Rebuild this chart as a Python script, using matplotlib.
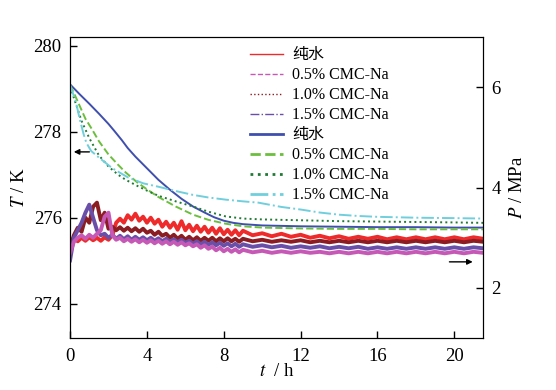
import numpy as np
import matplotlib
matplotlib.use('Agg')
import matplotlib.pyplot as plt
from matplotlib.lines import Line2D

plt.rcParams['font.family'] = ['Liberation Serif', 'Noto Sans CJK SC']
plt.rcParams['mathtext.fontset'] = 'stix'

# temperature curves (left axis)
t_blue = [0, 0.5, 1, 1.5, 2, 2.3, 2.7, 3, 3.4, 4, 4.6, 5.2, 5.8, 6.4, 7, 7.5, 8, 8.5, 9, 10, 12, 14, 16, 18, 20, 21.5]
T_blue = [279.1, 278.87, 278.65, 278.42, 278.18, 278.02, 277.8, 277.62, 277.42, 277.15, 276.88, 276.65, 276.44,
          276.26, 276.12, 276.01, 275.93, 275.88, 275.85, 275.82, 275.8, 275.79, 275.78, 275.78, 275.77, 275.77]
t_green = [0, 0.25, 0.5, 0.8, 1.15, 1.5, 2, 2.5, 2.9, 3.5, 4, 4.6, 5.5, 6.4, 7.2, 8.1, 9, 10, 12, 14, 16, 18, 20, 21.5]
T_green = [279.08, 278.85, 278.6, 278.3, 278.05, 277.78, 277.47, 277.23, 277.05, 276.82, 276.66, 276.48, 276.26,
           276.07, 275.95, 275.86, 275.8, 275.77, 275.75, 275.74, 275.74, 275.73, 275.73, 275.73]
t_dgreen = [0, 0.3, 0.6, 1.0, 1.5, 2, 2.5, 2.9, 3.5, 4, 4.6, 5.5, 6.4, 7.2, 8.1, 9, 10, 12, 14, 16, 18, 20, 21.5]
T_dgreen = [279.05, 278.65, 278.25, 277.85, 277.45, 277.19, 277.0, 276.88, 276.74, 276.63, 276.51, 276.38, 276.26,
            276.14, 276.03, 275.98, 275.96, 275.94, 275.92, 275.91, 275.9, 275.89, 275.88]
t_cyan = [0, 0.3, 0.5, 0.7, 0.85, 1.1, 1.5, 2.2, 3, 3.8, 4.6, 5.5, 6.4, 7.2, 8.1, 9, 9.8, 11, 12, 13, 14, 15, 16, 18, 20, 21.5]
T_cyan = [279.08, 278.7, 278.3, 277.95, 277.74, 277.55, 277.4, 277.15, 276.94, 276.8, 276.72, 276.62, 276.53,
          276.47, 276.42, 276.38, 276.35, 276.25, 276.19, 276.12, 276.07, 276.04, 276.02, 276.0, 275.99, 275.98]

# pressure curves (right axis)
t_p = np.concatenate([np.arange(0, 9.01, 0.2), np.arange(9.5, 21.51, 0.5)])
P_red = [2.90, 2.99, 2.93, 3.00, 2.94, 3.01, 2.95, 3.00, 2.94, 3.01, 2.96, 3.05, 3.30, 3.38, 3.30, 3.45, 3.36, 3.48,
         3.34, 3.42, 3.30, 3.40, 3.28, 3.36, 3.22, 3.32, 3.20, 3.30, 3.16, 3.33, 3.15, 3.26, 3.13, 3.24, 3.12, 3.22,
         3.10, 3.20, 3.08, 3.19, 3.07, 3.16, 3.06, 3.15, 3.05, 3.14,
         3.05, 3.09, 3.03, 3.08, 3.02, 3.06, 3.00, 3.04, 2.99, 3.03, 2.98, 3.02, 2.98, 3.02, 2.97, 3.01, 2.97, 3.01,
         2.97, 3.01, 2.97, 3.01, 2.97, 3.01, 2.98]
P_mag = [2.70, 2.92, 3.00, 3.05, 2.98, 3.06, 3.00, 3.08, 3.15, 3.42, 3.50, 3.05, 2.96, 3.00, 2.93, 2.98, 2.92, 2.97,
         2.91, 2.96, 2.90, 2.95, 2.89, 2.94, 2.88, 2.93, 2.87, 2.92, 2.86, 2.91, 2.85, 2.89, 2.83, 2.87, 2.80, 2.85,
         2.78, 2.82, 2.75, 2.80, 2.73, 2.78, 2.72, 2.77, 2.71, 2.76,
         2.71, 2.74, 2.70, 2.73, 2.70, 2.73, 2.70, 2.72, 2.69, 2.72, 2.69, 2.72, 2.69, 2.72, 2.69, 2.72, 2.69, 2.72,
         2.69, 2.72, 2.69, 2.72, 2.69, 2.72, 2.70]
P_dred = [2.80, 3.05, 3.20, 3.12, 3.40, 3.30, 3.62, 3.70, 3.35, 3.50, 3.18, 3.22, 3.15, 3.21, 3.14, 3.20, 3.13, 3.19,
          3.12, 3.18, 3.10, 3.14, 3.06, 3.12, 3.04, 3.08, 3.00, 3.06, 2.98, 3.04, 2.96, 3.02, 2.95, 3.01, 2.94, 3.00,
          2.94, 3.00, 2.93, 2.99, 2.93, 2.99, 2.93, 2.98, 2.92, 2.98,
          2.93, 2.96, 2.92, 2.95, 2.92, 2.95, 2.91, 2.94, 2.91, 2.94, 2.91, 2.94, 2.91, 2.94, 2.91, 2.94, 2.91, 2.94,
          2.91, 2.94, 2.91, 2.94, 2.91, 2.94, 2.92]
P_purp = [2.55, 3.00, 3.15, 3.30, 3.50, 3.66, 3.40, 3.15, 3.05, 3.08, 3.00, 3.06, 2.98, 3.04, 2.97, 3.03, 2.96, 3.02,
          2.96, 3.01, 2.95, 3.00, 2.94, 2.99, 2.93, 2.98, 2.92, 2.97, 2.91, 2.96, 2.90, 2.94, 2.88, 2.93, 2.87, 2.92,
          2.86, 2.91, 2.85, 2.90, 2.84, 2.89, 2.83, 2.88, 2.82, 2.87,
          2.82, 2.85, 2.81, 2.84, 2.80, 2.83, 2.80, 2.83, 2.79, 2.82, 2.79, 2.82, 2.78, 2.81, 2.78, 2.81, 2.78, 2.81,
          2.78, 2.81, 2.78, 2.81, 2.78, 2.81, 2.79]

labels = ['纯水', '0.5% CMC-Na', '1.0% CMC-Na', '1.5% CMC-Na']
c_p = ['#ee2a2a', '#c659b5', '#8a1c22', '#6a4fa8']
c_t = ['#3f4fae', '#6cbf3e', '#1f7a34', '#6fcfdc']
styles = ['-', '--', ':', '-.']

fig = plt.figure(figsize=(5.56, 3.90), dpi=100)
ax = fig.add_axes([0.126, 0.133, 0.743, 0.772])
ax2 = ax.twinx()

for P, c in zip([P_red, P_dred, P_purp, P_mag], [c_p[0], c_p[2], c_p[3], c_p[1]]):
    ax2.plot(t_p, P, color=c, lw=2.8)

for t, T, c, s in zip([t_blue, t_green, t_dgreen, t_cyan], [T_blue, T_green, T_dgreen, T_cyan], c_t, styles):
    ax.plot(t, T, color=c, ls=s, lw=1.4)

ax.set_zorder(ax2.get_zorder() + 1)
ax.patch.set_visible(False)

ax.set_xlim(0, 21.5)
ax.set_ylim(273.2, 280.2)
ax2.set_ylim(1.0, 7.0)
ax.set_xticks([0, 4, 8, 12, 16, 20])
ax.set_yticks([274, 276, 278, 280])
ax2.set_yticks([2, 4, 6])
ax.tick_params(direction='in', length=5, width=1, labelsize=13.5, pad=6)
ax2.tick_params(direction='in', length=5, width=1, labelsize=13.5, pad=6)
ax.tick_params(axis='x', pad=7)

ax.set_xlabel(r'$t$  / h', fontsize=13.5, labelpad=-1)
ax.set_ylabel(r'$T$ / K', fontsize=13.5, labelpad=4)
ax2.set_ylabel(r'$P$ / MPa', fontsize=13.5, labelpad=6)

# arrows showing which axis
ax.annotate('', xy=(0.05, 277.53), xytext=(1.15, 277.53),
            arrowprops=dict(arrowstyle='-|>', color='k', lw=1, mutation_scale=8))
ax2.annotate('', xy=(21.1, 2.52), xytext=(19.6, 2.52),
             arrowprops=dict(arrowstyle='-|>', color='k', lw=1, mutation_scale=8))

handles = [Line2D([], [], color=c, ls=s, lw=1) for c, s in zip(c_p, styles)]
handles += [Line2D([], [], color=c, ls=s, lw=2) for c, s in zip(c_t, styles)]
ax.legend(handles, labels + labels, loc='upper left', bbox_to_anchor=(0.41, 1.0), frameon=False,
          fontsize=11.5, handlelength=2.1, labelspacing=0.25, handletextpad=0.55, borderaxespad=0.25)

fig.savefig('out.png', dpi=100)
